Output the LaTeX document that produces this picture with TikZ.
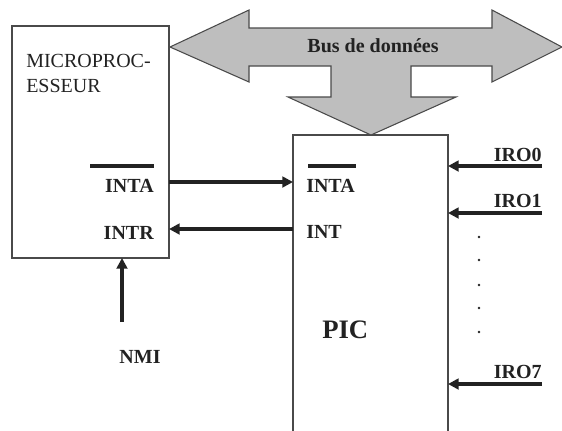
\documentclass[tikz,border=0pt]{standalone}
\usepackage{fontspec}
\setmainfont{Liberation Serif}
\usepackage{tikz}
\usetikzlibrary{positioning, arrows.meta, calc}
\definecolor{busgray}{HTML}{BEBEBE}
\definecolor{edgegray}{HTML}{4A4A4A}
\definecolor{inkgray}{HTML}{222222}

\begin{document}
\begin{tikzpicture}[x=0.75pt, y=-0.75pt, >={Triangle[length=8pt,width=8pt]},
        box/.style={draw=edgegray, line width=0.8pt, rectangle, inner sep=0pt, outer sep=0pt, anchor=north west},
        busarrow/.style={draw=edgegray, line width=0.8pt, fill=busgray, line join=miter},
        sig/.style={->, line width=2.4pt, inkgray},
        bar/.style={line width=3.4pt, inkgray},
        lbl/.style={inner sep=0pt, text=inkgray, font=\fontsize{15}{18.75}\selectfont\bfseries}]
        \useasboundingbox (0,0) rectangle (562,430);

        % blocs
        \node [box, minimum width=117.75pt, minimum height=174pt] (micro) at (12,26) {};
        \node [box, minimum width=116.25pt, minimum height=228pt] (pic) at (293,135) {};

        % bus de donnees
        \draw [busarrow] (170,47) -- (249,10) -- (249,28) -- (492,28) -- (492,10) -- (562,47)
            -- (492,82) -- (492,66) -- (411,66) -- (411,97) -- (456,97) -- (371,135)
            -- (288,97) -- (331,97) -- (331,66) -- (249,66) -- (249,82) -- cycle;
        \node [lbl, anchor=base] (bus) at (373,52) {Bus de données};

        % textes
        \node [lbl, font=\fontsize{15}{18.75}\selectfont, anchor=north west, align=left] (microname) at (26,54) {MICROPROC-\\ESSEUR};
        \node [lbl, anchor=base east] (intaM) at (154,192) {INTA};
        \node [lbl, anchor=base east] (intrM) at (154,239) {INTR};
        \node [lbl, anchor=base west] (intaP) at (306,192) {INTA};
        \node [lbl, anchor=base west] (intP) at (306,238) {INT};
        \node [lbl, font=\fontsize{20}{24}\selectfont\bfseries, anchor=base west] (picname) at (322,338) {PIC};
        \node [lbl, anchor=base] (nmi) at (140,363) {NMI};
        \node [lbl, anchor=base east] (iro0) at (542,161) {IRO0};
        \node [lbl, anchor=base east] (iro1) at (542,207) {IRO1};
        \node [lbl, anchor=base east] (iro7) at (542,378) {IRO7};

        % barres
        \draw [bar] (90,166) -- (intaM.north east |- 0,166);
        \draw [bar] (308,166) -- (356,166);

        % liaisons
        \coordinate (intaA) at (169,182);
        \coordinate (intrA) at (293,229);
        \coordinate (nmiA) at (122,322);
        \draw [sig] (intaA) -- (intaA -| pic.west);
        \draw [sig] (intrA) -- (intrA -| micro.east);
        \draw [sig] (nmiA) -- (nmiA |- micro.south);
        \foreach \k/\y in {0/166, 1/213, 7/384} {
            \coordinate (irq\k) at (iro\k.east |- 0,\y);
            \draw [sig] (irq\k) -- (irq\k -| pic.east);
        }
        \foreach \y in {237,260,285,308,332}
            \fill [inkgray] (479,\y) circle (1.1pt);
    \end{tikzpicture}
\end{document}
